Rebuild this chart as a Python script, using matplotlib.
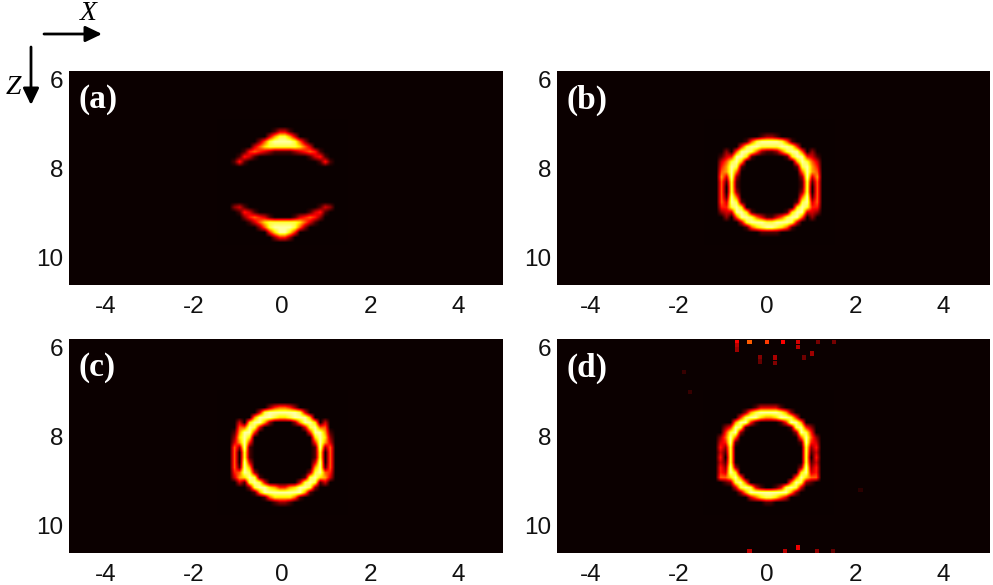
import numpy as np
import matplotlib
matplotlib.use("Agg")
import matplotlib.pyplot as plt

plt.rcParams['font.family'] = ['Liberation Sans', 'DejaVu Sans']
plt.rcParams['axes.unicode_minus'] = False

# intensity (0-9), left half of each panel, top to bottom
panel_a = [
 "0000000000000","0000000000000","0000000000013","0000000000368","0000000025899",
 "0000000357888","0000014543211","0000143100000","0001410000000","0000000000000",
 "0000000000000","0000000000000","0000000000000","0000000000000","0000000000000",
 "0000000000000","0000000000000","0002310000000","0000143100000","0000024543100",
 "0000001357888","0000000025899","0000000000479","0000000000024","0000000000000",
]
panel_b = [
 "0000000000000","0000000000000","0000000000000","0000000000012","0000000015899",
 "0000000489988","0000205998521","0001349971000","0003589600000","0004698100000",
 "0005695000000","0006392000000","0005181000000","0005081000000","0005082000000",
 "0005195000000","0005398100000","0004489700000","0002339971000","0000205998531",
 "0000000389998","0000000015789","0000000000011","0000000000000","0000000000000",
]
panel_c = [
 "0000000000000","0000000000000","0000000000000","0000000000245","0000000038999",
 "0000000699987","0000307996200","0000559830000","0001699400000","0002797000000",
 "0003694000000","0005291000000","0005081000000","0005081000000","0005093000000",
 "0005196000000","0004598200000","0003679810000","0000318983000","0000002899764",
 "0000000169999","0000000001577","0000000000012","0000000000000","0000000000000",
]
panel_d = [
 "0000000000000","0000000000000","0000000000000","0000000000133","0000000026899",
 "0000000489976","0000006994100","0000249810000","0000489200000","0002595000000",
 "0003491000000","0004280000000","0003180000000","0004080000000","0003180000000",
 "0004292000000","0004397000000","0005579500000","0000128950000","0000003898310",
 "0000000269999","0000000003578","0000000000001","0000000000000","0000000000000",
]
# faint speckles in panel (d)
speck_x = [-0.68,-0.39,0.0,0.36,0.70,1.16,1.52,-0.68,-0.68,0.70,-0.16,-0.16,0.18,0.18,1.02,0.84,
           -1.88,-1.75,-0.39,0.41,0.70,1.13,1.50,2.12]
speck_z = [5.87,5.87,5.87,5.87,5.87,5.87,5.87,5.95,6.04,5.98,6.20,6.31,6.22,6.34,6.13,6.22,
           6.54,6.99,10.58,10.58,10.49,10.58,10.58,9.20]
speck_v = [.36,.50,.45,.36,.30,.16,.16,.26,.22,.26,.18,.14,.24,.18,.22,.15,
           .07,.07,.26,.26,.34,.20,.13,.05]

x_ticks = [-4,-2,0,2,4]
z_ticks = [6,8,10]
labels = ["(a)","(b)","(c)","(d)"]
panels = [panel_a,panel_b,panel_c,panel_d]
W,H = 993,585
cmap = plt.get_cmap('hot')

# layout: pixel boxes and image placement
boxes = [(69,71,503,285),(557,71,990,285),(69,339,503,553),(557,339,990,553)]
xlims = [(-4.84,5.02),(-4.76,5.06),(-4.84,5.02),(-4.76,5.06)]
centres = [0.0,0.05,0.0,0.03]
ztops = [(6.90,9.71),(6.90,9.71),(6.944,9.753),(6.944,9.753)]
half_w = 1.477

fig = plt.figure(figsize=(W/100,H/100),dpi=100,facecolor='white')
for i,rows in enumerate(panels):
    assert all(len(r)==13 for r in rows) and len(rows)==25
    l,t,r,b = boxes[i]
    ax = fig.add_axes([l/W,1-b/H,(r-l)/W,(b-t)/H],facecolor=cmap(0))
    arr = np.array([[int(c) for c in (s+s[::-1])] for s in rows])/9.0
    c = centres[i]
    ax.imshow(arr,cmap=cmap,vmin=0,vmax=1.1,interpolation='bilinear',aspect='auto',
              extent=[c-half_w,c+half_w,ztops[i][1],ztops[i][0]])
    if i==3:
        ax.scatter(speck_x,speck_z,c=speck_v,cmap=cmap,vmin=0,vmax=1,s=10,marker='s',linewidths=0)
    ax.set_xlim(*xlims[i]); ax.set_ylim(10.61,5.8)
    ax.set_xticks(x_ticks); ax.set_yticks(z_ticks)
    ax.tick_params(length=0,labelsize=17.5,colors='#111111')
    ax.tick_params(axis='x',pad=8); ax.tick_params(axis='y',pad=4)
    for s in ax.spines.values(): s.set_visible(False)
    ax.text(0.023,0.865,labels[i],transform=ax.transAxes,color='white',family='Liberation Serif',
            fontweight='bold',fontsize=24,ha='left',va='center')

def px(x,y): return (x/W,1-y/H)
for a,bb in [((44,34),(102,34)),((31,47),(31,105))]:
    fig.add_artist(matplotlib.patches.FancyArrowPatch(px(*a),px(*bb),transform=fig.transFigure,
        arrowstyle='-|>,head_length=0.5,head_width=0.24',mutation_scale=20,lw=2,color='black',
        shrinkA=0,shrinkB=0))
fig.text(*px(88,14),"X",family='Liberation Serif',style='italic',fontsize=20,ha='center',va='center')
fig.text(*px(13,87),"Z",family='Liberation Serif',style='italic',fontsize=20,ha='center',va='center')
fig.savefig('out.png',dpi=100)
